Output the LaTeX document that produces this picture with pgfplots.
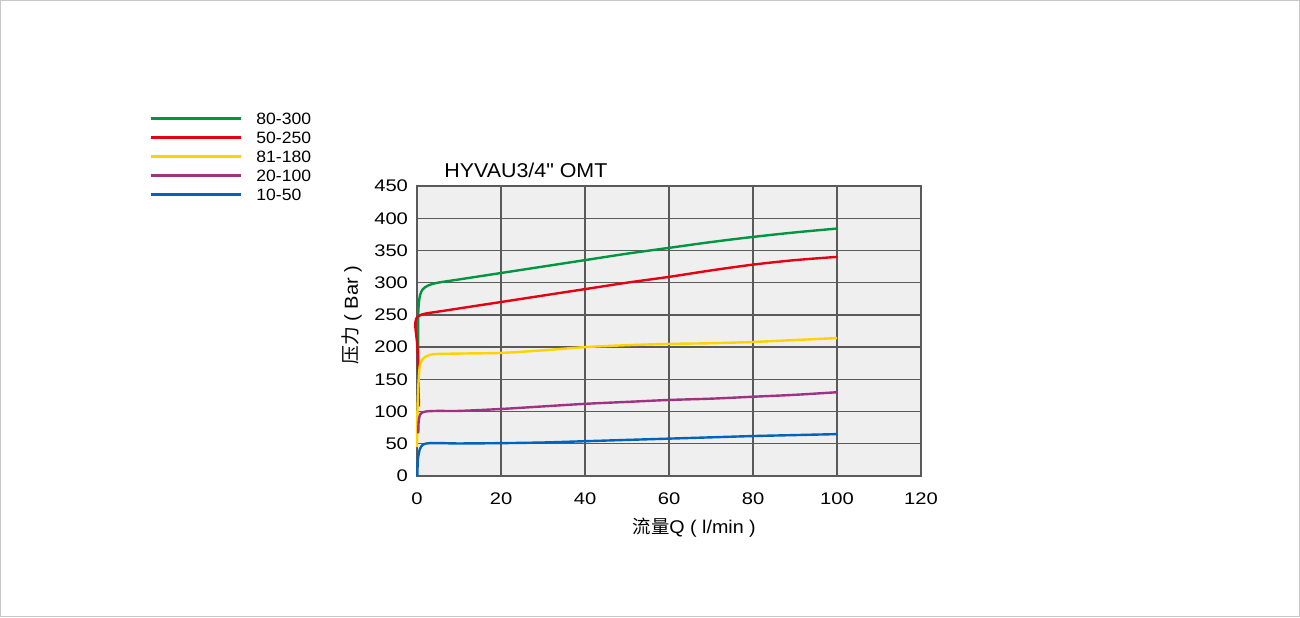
\documentclass[border=0pt]{standalone}
\usepackage{pgfplots}
\pgfplotsset{compat=1.18}
\usepackage{fontspec}
\setmainfont{Liberation Sans}
\newfontfamily\cjk{Noto Sans CJK SC}
\newfontfamily\tickfont{Liberation Sans}[FakeStretch=1.2]
\newfontfamily\legfont{Liberation Sans}[FakeStretch=1.07]
\definecolor{cgreen}{RGB}{0,150,64}
\definecolor{cred}{RGB}{230,0,18}
\definecolor{cyellow}{RGB}{255,210,0}
\definecolor{cpurple}{RGB}{160,50,130}
\definecolor{cblue}{RGB}{0,100,190}
\definecolor{gridgray}{RGB}{90,90,90}
\definecolor{bggray}{RGB}{239,239,239}
\definecolor{bordergray}{RGB}{200,200,200}
\begin{document}
\begin{tikzpicture}
\draw[color=bordergray, line width=0.6pt] (0.3pt,0.3pt) rectangle (649.7pt,308.2pt);
\begin{axis}[
  at={(208.5pt,70.5pt)}, anchor=south west,
  scale only axis, width=252pt, height=145pt,
  xmin=0, xmax=120, ymin=0, ymax=450,
  xtick={0,20,...,120}, ytick={0,50,...,450},
  grid=major, grid style={color=gridgray, line width=0.7pt},
  axis line style={gridgray, line width=0.7pt},
  axis background/.style={fill=bggray},
  major tick length=0pt,
  clip=false,
  tick label style={font=\tickfont\fontsize{8.4}{10}\selectfont},
  /pgf/number format/assume math mode=true,
  xticklabel style={yshift=-5pt},
  yticklabel style={xshift=-1pt},
  xlabel={{\cjk 流量}Q ( l/min )},
  ylabel={{\cjk 压力} ( Bar )},
  x label style={at={(axis description cs:0.55,-0.179)}, anchor=center, font=\legfont\fontsize{9.2}{10}\selectfont},
  y label style={at={(axis description cs:-0.129,0.555)}, anchor=center, font=\legfont\fontsize{9.4}{10}\selectfont},
  legend style={at={(axis description cs:-0.530,1.255)}, anchor=north west, draw=none, fill=none,
     font=\legfont\fontsize{8.2}{9}\selectfont, inner sep=0pt,
     nodes={inner sep=0pt, text height=6pt, text depth=0pt}, row sep=3.5pt,
     /tikz/every odd column/.append style={column sep=7pt}},
  legend cell align=left,
  legend image code/.code={\draw[#1, line width=1.1pt] (0pt,0pt) -- (45pt,0pt);},
  every axis plot/.append style={line width=1.2pt, smooth, tension=0.5},
]
\addplot[cgreen] coordinates {(0.3,170) (0.25,230) (0.35,260) (0.7,280) (1.4,290) (2.8,296) (5,300) (10,305) (20,315) (30,325) (40,335) (50,345) (60,354) (70,363) (80,371) (90,378) (100,384)};
\addlegendentry{80-300}
\addplot[cred] coordinates {(0.45,108) (0.35,150) (0.1,200) (-0.4,232) (-0.2,244) (0.6,249) (2,252) (6,256) (10,260) (20,270) (30,280) (40,290) (50,300) (60,309) (70,319) (80,328) (90,335) (100,340)};
\addlegendentry{50-250}
\addplot[cyellow] coordinates {(0,45) (0.1,100) (0.4,150) (0.8,175) (2,185) (4,189) (10,190) (20,191) (30,195) (40,200) (50,203) (60,205) (70,206) (80,208) (90,211) (100,214)};
\addlegendentry{81-180}
\addplot[cpurple] coordinates {(0.3,66) (0.4,85) (0.8,96) (2,100) (5,101) (10,101) (20,104) (30,108) (40,112) (50,115) (60,118) (70,120) (80,123) (90,126) (100,130)};
\addlegendentry{20-100}
\addplot[cblue] coordinates {(0.1,0) (0.2,25) (0.7,42) (1.5,49) (3,51) (6,51) (10,50.5) (20,51) (30,52) (40,54) (50,56) (60,58) (70,60) (80,62) (90,63.5) (100,65)};
\addlegendentry{10-50}
\node[anchor=center, font=\legfont\fontsize{10}{12}\selectfont] at (axis description cs:0.216,1.055) {HYVAU3/4" OMT};
\end{axis}
\end{tikzpicture}
\end{document}
